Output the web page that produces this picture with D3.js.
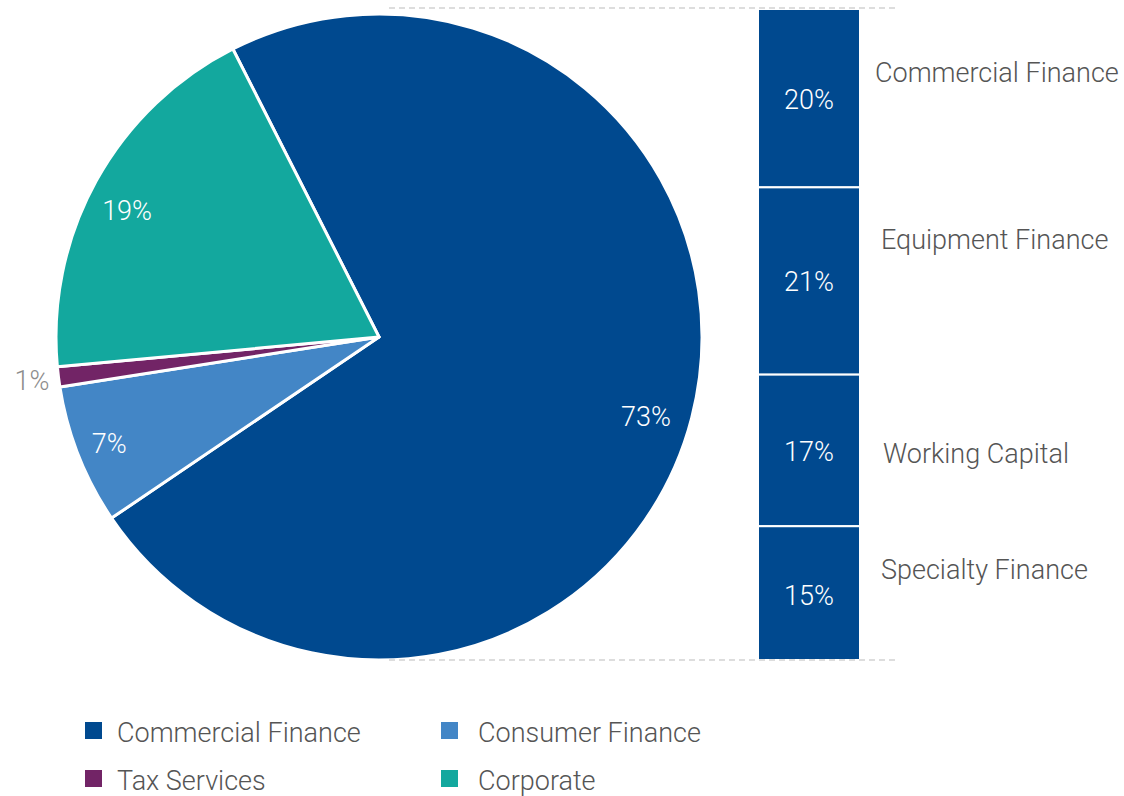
<!DOCTYPE html>
<html>
<head>
<meta charset="utf-8">
<script src="https://cdn.jsdelivr.net/npm/d3@7"></script>
<style>
  html, body { margin: 0; padding: 0; background: #fff; }
  svg text { font-family: Roboto, "Liberation Sans", sans-serif; font-weight: 300; }
</style>
</head>
<body>
<svg id="chart" width="1124" height="796"></svg>
<script>
// Segment mix (percent of total)
const segments = ["Commercial Finance", "Consumer Finance", "Tax Services", "Corporate"];
const segmentValues = [73, 7, 1, 19];
const segmentColors = ["#00498f", "#4386c6", "#722466", "#13a89e"];

// Breakdown of Commercial Finance (percent of total)
const subSegments = ["Commercial Finance", "Equipment Finance", "Working Capital", "Specialty Finance"];
const subValues = [20, 21, 17, 15];

// Legend layout order
const legendOrder = ["Commercial Finance", "Consumer Finance", "Tax Services", "Corporate"];

(function () {
  const svg = d3.select("#chart");
  const cx = 379, cy = 337, R = 323;
  const startDeg = -26.9;
  const fontSize = 27;

  const pie = d3.pie().sort(null)
    .startAngle(startDeg * Math.PI / 180)
    .endAngle((startDeg + 360) * Math.PI / 180);
  const arcs = pie(segmentValues);
  const arc = d3.arc().innerRadius(0).outerRadius(R);

  const g = svg.append("g").attr("transform", `translate(${cx},${cy})`);
  g.selectAll("path").data(arcs).join("path")
    .attr("d", arc)
    .attr("fill", (d, i) => segmentColors[i])
    .attr("stroke", "#fff")
    .attr("stroke-width", 3)
    .attr("stroke-linejoin", "round");

  // Slice labels: radial fraction of R and angular nudge (degrees) per slice
  const labelRadius = [0.862, 0.898, 1.083, 0.873];
  const labelNudge = [2, 0, 0, -2.2];
  const labelAngle = (d, i) => (d.startAngle + d.endAngle) / 2 + labelNudge[i] * Math.PI / 180;
  g.selectAll("text.pct").data(arcs).join("text")
    .attr("class", "pct")
    .attr("x", (d, i) => Math.sin(labelAngle(d, i)) * R * labelRadius[i])
    .attr("y", (d, i) => -Math.cos(labelAngle(d, i)) * R * labelRadius[i])
    .attr("dy", 1)
    .attr("text-anchor", "middle")
    .attr("dominant-baseline", "central")
    .attr("font-size", fontSize)
    .attr("fill", (d, i) => i === 2 ? "#8c8c8c" : "#fff")
    .text(d => d.data + "%");

  // Stacked column for the Commercial Finance breakdown
  const barX = 758, barW = 102, barTop = 9, barBottom = 660;
  const total = d3.sum(subValues);
  const y = d3.scaleLinear().domain([0, total]).range([barTop, barBottom]);
  let acc = 0;
  const stacks = subValues.map((v, i) => {
    const s = { name: subSegments[i], value: v, y0: acc, y1: acc + v };
    acc += v;
    return s;
  });

  svg.selectAll("rect.stack").data(stacks).join("rect")
    .attr("class", "stack")
    .attr("x", barX)
    .attr("width", barW)
    .attr("y", d => y(d.y0))
    .attr("height", d => y(d.y1) - y(d.y0))
    .attr("fill", "#00498f")
    .attr("stroke", "#fff")
    .attr("stroke-width", 2);

  const pctShift = [2, 1, 2, 3];
  svg.selectAll("text.stackPct").data(stacks).join("text")
    .attr("class", "stackPct")
    .attr("x", barX + barW / 2)
    .attr("y", (d, i) => (y(d.y0) + y(d.y1)) / 2 + pctShift[i])
    .attr("text-anchor", "middle")
    .attr("dominant-baseline", "central")
    .attr("font-size", fontSize)
    .attr("fill", "#fff")
    .text(d => d.value + "%");

  // Category names beside the column
  const nameShift = [-25, -41, 4, -23];
  const nameX = [875, 881, 883, 881];
  svg.selectAll("text.stackName").data(stacks).join("text")
    .attr("class", "stackName")
    .attr("x", (d, i) => nameX[i])
    .attr("y", (d, i) => (y(d.y0) + y(d.y1)) / 2 + nameShift[i])
    .attr("dominant-baseline", "central")
    .attr("font-size", fontSize)
    .attr("fill", "#555")
    .text(d => d.name);

  // Connector guides from pie to column
  [barTop - 1, barBottom].forEach(yy => {
    svg.append("line")
      .attr("x1", 389).attr("x2", 895)
      .attr("y1", yy).attr("y2", yy)
      .attr("stroke", "#bbb")
      .attr("stroke-width", 1)
      .attr("stroke-dasharray", "6,4");
  });

  // Legend (two columns)
  const legend = svg.append("g");
  legendOrder.forEach((name, i) => {
    const col = i % 2, row = Math.floor(i / 2);
    const lx = 85 + col * 356, ly = 730 + row * 48;
    const tx = 117 + col * 361;
    const ci = segments.indexOf(name);
    legend.append("rect")
      .attr("x", lx).attr("y", ly - 8)
      .attr("width", 17).attr("height", 17)
      .attr("fill", segmentColors[ci]);
    legend.append("text")
      .attr("x", tx).attr("y", ly + 3)
      .attr("dominant-baseline", "central")
      .attr("font-size", fontSize)
      .attr("fill", "#555")
      .text(name);
  });
})();
</script>
</body>
</html>
